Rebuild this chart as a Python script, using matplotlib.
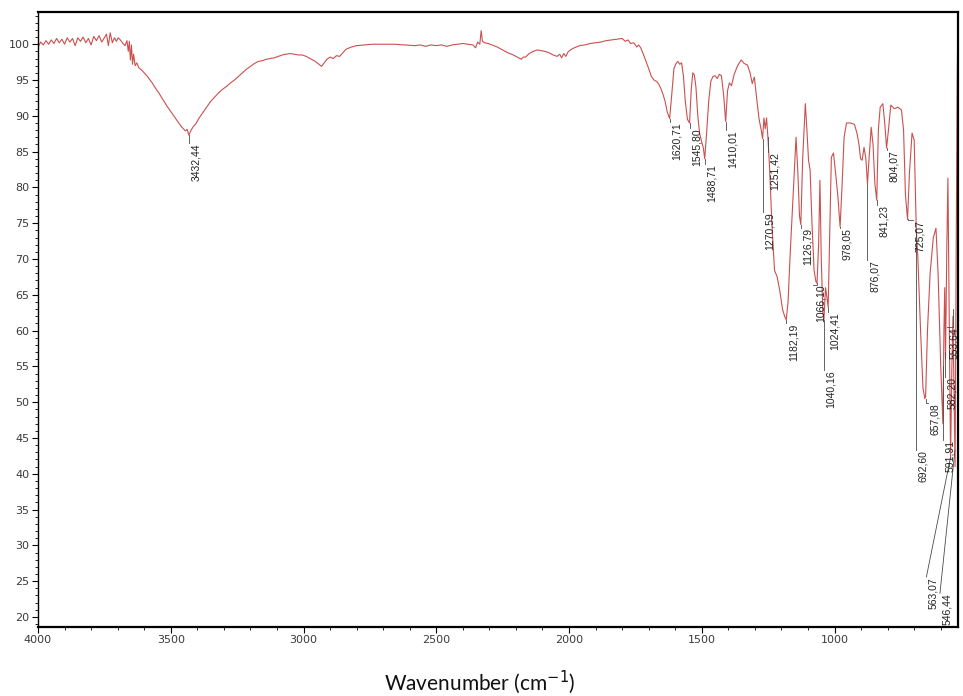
import matplotlib
matplotlib.use("Agg")
from matplotlib import pyplot as plt
from matplotlib.ticker import MultipleLocator

# spectrum, 10 values per row in both lists
wavenumber = [
    4000, 3990, 3980, 3970, 3960, 3950, 3940, 3930, 3920, 3910,
    3900, 3890, 3880, 3870, 3860, 3850, 3840, 3830, 3820, 3810,
    3800, 3790, 3780, 3770, 3760, 3750, 3742, 3735, 3728, 3720,
    3712, 3705, 3698, 3690, 3680, 3672, 3665, 3660, 3656, 3652,
    3648, 3644, 3640, 3634, 3628, 3620, 3610, 3600, 3590, 3580,
    3570, 3560, 3545, 3530, 3515, 3500, 3485, 3470, 3458, 3445,
    3438, 3432, 3425, 3415, 3405, 3395, 3380, 3365, 3350, 3335,
    3320, 3305, 3290, 3275, 3260, 3245, 3230, 3215, 3200, 3185,
    3170, 3155, 3140, 3125, 3110, 3095, 3080, 3065, 3050, 3035,
    3020, 3005, 2990, 2975, 2960, 2945, 2932, 2922, 2912, 2900,
    2888, 2876, 2864, 2852, 2840, 2820, 2800, 2770, 2740, 2700,
    2660, 2620, 2580, 2560, 2540, 2520, 2500, 2480, 2460, 2440,
    2420, 2400, 2380, 2362, 2352, 2344, 2336, 2331, 2326, 2318,
    2305, 2290, 2270, 2250, 2230, 2210, 2195, 2180, 2172, 2164,
    2150, 2135, 2120, 2105, 2090, 2075, 2060, 2045, 2035, 2028,
    2020, 2012, 2004, 1995, 1980, 1960, 1940, 1920, 1900, 1880,
    1860, 1840, 1820, 1800, 1788, 1778, 1768, 1756, 1745, 1738,
    1730, 1722, 1712, 1700, 1690, 1680, 1670, 1662, 1654, 1646,
    1638, 1630, 1621, 1613, 1605, 1597, 1590, 1583, 1576, 1569,
    1562, 1554, 1546, 1540, 1534, 1528, 1522, 1515, 1508, 1500,
    1494, 1489, 1482, 1474, 1466, 1458, 1450, 1442, 1434, 1426,
    1418, 1410, 1403, 1396, 1388, 1378, 1365, 1352, 1340, 1328,
    1318, 1310, 1302, 1292, 1284, 1277, 1271, 1266, 1261, 1256,
    1251, 1245, 1236, 1226, 1216, 1206, 1196, 1188, 1182, 1175,
    1168, 1160, 1152, 1145, 1138, 1132, 1127, 1120, 1110, 1104,
    1098, 1092, 1085, 1077, 1070, 1066, 1060, 1055, 1050, 1044,
    1040, 1034, 1030, 1024, 1018, 1012, 1004, 996, 988, 979,
    972, 964, 955, 940, 925, 915, 908, 902, 896, 889,
    882, 876, 870, 862, 855, 848, 841, 835, 828, 818,
    811, 804, 797, 788, 775, 761, 748, 740, 733, 725,
    718, 708, 700, 692, 686, 676, 667, 660, 657, 650,
    640, 628, 618, 610, 600, 592, 588, 585, 582, 577,
    573, 568, 563, 558, 554, 550, 546, 542, 538, 535,
]
transmittance = [
    99.6, 100.3, 99.9, 100.5, 100.0, 100.6, 100.1, 100.8, 100.2, 100.7,
    100.0, 100.9, 100.3, 100.8, 99.8, 100.9, 100.4, 101.0, 100.2, 100.8,
    99.9, 101.1, 100.5, 101.2, 100.3, 100.9, 101.4, 99.8, 101.6, 100.2,
    100.9, 100.4, 100.9, 100.6, 100.1, 99.8, 100.5, 99.0, 100.4, 97.8,
    99.9, 97.2, 98.6, 97.0, 97.4, 96.7, 96.4, 96.0, 95.6, 95.1,
    94.6, 94.0, 93.2, 92.3, 91.4, 90.6, 89.8, 89.0, 88.4, 87.9,
    88.1, 87.3, 87.9, 88.5, 88.9, 89.6, 90.4, 91.2, 92.0, 92.6,
    93.2, 93.7, 94.1, 94.6, 95.0, 95.5, 96.0, 96.5, 96.9, 97.3,
    97.6, 97.7, 97.9, 98.0, 98.1, 98.3, 98.5, 98.6, 98.7, 98.6,
    98.5, 98.5, 98.3, 98.0, 97.7, 97.3, 96.9, 97.4, 97.9, 98.2,
    98.0, 98.4, 98.3, 98.8, 99.3, 99.6, 99.8, 99.9, 100.0, 100.0,
    100.0, 99.9, 99.8, 99.9, 99.7, 99.9, 99.8, 99.9, 99.7, 99.9,
    100.0, 100.1, 100.0, 99.9, 99.5, 100.3, 100.0, 101.9, 100.4, 100.2,
    100.1, 99.9, 99.6, 99.2, 98.8, 98.5, 98.2, 97.9, 98.2, 98.2,
    98.7, 99.0, 99.2, 99.1, 99.0, 98.8, 98.5, 98.3, 98.6, 98.1,
    98.7, 98.3, 98.9, 99.2, 99.5, 99.8, 99.9, 100.1, 100.2, 100.3,
    100.5, 100.6, 100.7, 100.8, 100.4, 100.6, 100.1, 100.2, 99.6, 99.9,
    99.5, 98.8, 97.8, 96.6, 95.5, 95.0, 94.8, 94.4, 93.8, 93.0,
    92.0, 90.5, 89.6, 93.0, 96.6, 97.3, 97.6, 97.2, 97.4, 95.5,
    92.0, 89.5, 89.0, 93.5, 96.0, 95.7, 94.0, 90.0, 87.5, 86.3,
    85.5, 84.0, 87.5, 92.0, 94.8, 95.5, 95.6, 95.2, 95.8, 95.6,
    93.0, 89.2, 93.5, 94.6, 94.2, 95.8, 97.0, 97.8, 97.3, 97.1,
    96.0, 94.5, 95.4, 92.0, 89.5, 88.2, 86.8, 89.7, 88.2, 89.7,
    87.0, 83.0, 75.0, 68.4, 67.5, 65.5, 63.0, 62.0, 61.5, 64.0,
    70.0, 76.0, 82.0, 87.0, 82.0, 76.0, 74.8, 84.0, 91.7, 88.0,
    83.8, 82.4, 75.0, 68.4, 66.8, 66.6, 72.0, 81.0, 70.0, 62.5,
    61.5, 66.0, 65.0, 63.3, 74.0, 84.2, 84.8, 82.0, 79.0, 74.5,
    80.0, 87.0, 89.0, 89.0, 88.8, 87.5, 86.0, 84.0, 83.8, 85.6,
    84.0, 80.5, 84.0, 88.4, 86.0, 80.5, 78.2, 88.0, 91.2, 91.7,
    89.0, 85.5, 88.0, 91.5, 91.0, 91.2, 90.8, 88.0, 79.0, 75.5,
    82.0, 87.6, 86.6, 74.0, 70.0, 60.0, 52.0, 50.5, 50.8, 60.0,
    68.0, 73.0, 74.3, 68.0, 55.0, 47.0, 60.0, 66.0, 56.0, 72.0,
    81.3, 62.0, 42.0, 55.0, 62.0, 52.0, 41.0, 70.0, 95.0, 104.5,
]

# peak labels: text, peak position, leader start, text top, x where leader meets text
peak_text = [
    "3432,44", "1620,71", "1545,80", "1488,71", "1410,01", "1251,42", "1270,59",
    "1182,19", "1126,79", "1066,10", "1040,16", "1024,41", "978,05", "876,07",
    "841,23", "804,07", "725,07", "692,60", "657,08", "591,91", "582,20",
    "553,64", "563,07", "546,44",
]
peak_x = [
    3432.44, 1620.71, 1545.80, 1488.71, 1410.01, 1251.42, 1270.59, 1182.19,
    1126.79, 1066.10, 1040.16, 1024.41, 978.05, 876.07, 841.23, 804.07, 725.07,
    692.60, 657.08, 591.91, 582.20, 553.64, 563.07, 546.44,
]
peak_y = [
    87.3, 89.6, 89.0, 84.0, 89.2, 87.0, 86.8, 61.5, 74.8, 66.6, 61.5, 63.3,
    74.5, 80.5, 78.2, 85.5, 75.6, 74.0, 50.5, 55.0, 57.0, 63.0, 42.3, 43.3,
]
label_top = [
    86.2, 89.1, 88.3, 83.2, 88.0, 84.9, 76.5, 61.0, 74.4, 66.4, 54.5, 62.6,
    74.3, 69.8, 77.5, 85.2, 75.4, 43.3, 49.9, 44.7, 53.5, 60.5, 25.6, 23.3,
]
label_x = [
    3432.44, 1620.71, 1545.80, 1488.71, 1410.01, 1251.42, 1270.59, 1182.19,
    1126.79, 1080.0, 1040.16, 1024.41, 978.05, 876.07, 841.23, 804.07, 705.0,
    692.60, 648.0, 591.91, 582.20, 575.0, 654.0, 603.0,
]
slanted = ["563,07", "546,44"]

yticks = [20, 25, 30, 35, 40, 45, 50, 55, 60, 65, 70, 75, 80, 85, 90, 95, 100]
xticks = [4000, 3500, 3000, 2500, 2000, 1500, 1000]


def main() -> None:
    fig = plt.figure(figsize=(9.63, 6.96), dpi=100)
    ax = fig.add_axes([38 / 963, 69 / 696, 920 / 963, 615 / 696])

    ax.plot(wavenumber, transmittance, color="#cc4f4f", lw=0.8)

    gray = "#4a4a4a"
    for txt, px, py, top, lx in zip(peak_text, peak_x, peak_y, label_top, label_x):
        if txt in slanted:
            ax.plot([px, lx], [py, top], color=gray, lw=0.6)
        else:
            ax.plot([px, px, lx], [py, top, top], color=gray, lw=0.6)
        ax.annotate(txt, (lx, top), xytext=(1.5, 0), textcoords="offset points",
                    rotation=90, ha="left", va="top", fontsize=7.5,
                    family="Liberation Sans", color="#222222")

    ax.set_xlim(4000, 535)
    ax.set_ylim(18.6, 104.5)
    ax.set_xticks(xticks)
    ax.set_yticks(yticks)
    ax.xaxis.set_minor_locator(MultipleLocator(100))
    ax.yaxis.set_minor_locator(MultipleLocator(1))
    ax.tick_params(axis="both", which="major", length=4, width=0.8,
                   labelsize=8, labelcolor="#3a3a3a", pad=2)
    ax.tick_params(axis="both", which="minor", length=2, width=0.6)

    for side in ["top", "right", "bottom"]:
        ax.spines[side].set_linewidth(1.6)
    ax.spines["left"].set_linewidth(1.0)

    fig.text(0.4985, 0.02, "Wavenumber (cm$^{-1}$)", ha="center", va="center",
             fontsize=15, family="Lato", color="#111111",
             math_fontfamily="dejavusans")

    fig.savefig("out.png", dpi=100)


if __name__ == "__main__":
    main()
